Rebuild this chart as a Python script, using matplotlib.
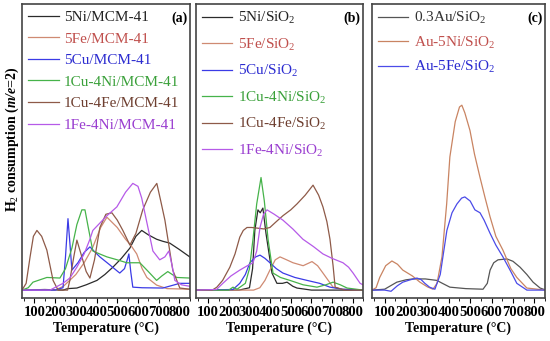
import numpy as np
import matplotlib
matplotlib.use('Agg')
import matplotlib.pyplot as plt
from matplotlib.ticker import MultipleLocator

plt.rcParams['font.family'] = ['Liberation Serif', 'DejaVu Serif']
plt.rcParams['mathtext.fontset'] = 'custom'
plt.rcParams['mathtext.rm'] = 'Liberation Serif'
plt.rcParams['mathtext.it'] = 'Liberation Serif:italic'
plt.rcParams['mathtext.bf'] = 'Liberation Serif:bold'
plt.rcParams['mathtext.bfit'] = 'Liberation Serif:bold:italic'

# ---- pannello (a): MCM-41 ----
a_5ni_t = [40, 150, 238, 260, 305, 350, 402, 440, 479, 520, 561, 590, 618, 650, 690, 720, 753, 800, 850]
a_5ni_v = [2.7, 2.9, 2.7, 3.2, 3.4, 4.5, 6, 8, 10.5, 13.5, 17, 21, 23, 21.5, 20, 19.3, 18.7, 16.5, 14]
a_5fe_t = [40, 200, 240, 300, 340, 380, 420, 450, 500, 540, 565, 594, 620, 643, 690, 740, 850]
a_5fe_v = [2.7, 2.7, 4, 8, 12, 17, 24, 27.5, 24, 20, 18, 15, 10, 7, 4.4, 3.2, 3]
a_5cu_t = [40, 200, 238, 250, 262, 272, 281, 310, 340, 368, 390, 416, 460, 503, 512, 535, 548, 556, 565, 575, 620, 720, 802, 850]
a_5cu_v = [2.7, 2.7, 3.5, 14, 27, 18, 9.5, 12, 15.5, 17.4, 15.8, 14, 11.5, 9, 8.5, 10, 13, 15, 9, 3.7, 3.5, 3.4, 5, 5]
a_1cu4ni_t = [40, 70, 93, 160, 223, 250, 281, 305, 329, 344, 360, 382, 415, 450, 500, 546, 609, 650, 690, 715, 744, 787, 850]
a_1cu4ni_v = [2.7, 3.5, 5.4, 7, 6.8, 10, 17, 25, 30, 30, 24, 16, 15, 14, 13, 12, 12, 9, 6, 7.5, 9, 7, 6.8]
a_1cu4fe_t = [40, 60, 79, 95, 112, 135, 160, 190, 214, 260, 271, 290, 305, 329, 350, 368, 390, 416, 445, 474, 500, 527, 561, 590, 623, 660, 691, 710, 730, 768, 802, 850]
a_1cu4fe_v = [2.7, 5, 14, 21, 23, 21, 16.3, 6, 2.7, 2.7, 6, 14, 19.7, 14, 9, 6.8, 13, 24, 28.5, 29, 26.5, 23, 18, 22, 30, 36, 39, 33, 26.5, 9.5, 3.4, 3]
a_1fe4ni_t = [40, 175, 238, 271, 305, 340, 368, 382, 416, 450, 498, 540, 575, 600, 618, 645, 672, 705, 730, 749, 765, 778, 810, 850]
a_1fe4ni_v = [2.7, 2.7, 5, 6.8, 10.5, 15, 20, 23, 25.5, 28, 31, 36, 39, 38, 34, 25, 16, 13, 14, 16, 11, 6, 4.5, 4]

# ---- pannello (b): SiO2 ----
b_5ni_t = [40, 250, 300, 315, 326, 341, 352, 365, 380, 409, 433, 460, 482, 510, 530, 600, 850]
b_5ni_v = [2.7, 2.7, 3.5, 10, 23, 30, 29, 30.6, 22, 8.5, 5, 5, 5.4, 4, 3.4, 2.7, 2.7]
b_5fe_t = [40, 320, 350, 375, 399, 425, 448, 480, 511, 560, 603, 630, 656, 705, 750, 850]
b_5fe_v = [2.7, 2.7, 3.5, 6, 9.5, 13, 14, 13, 12, 11, 12.4, 11, 8.5, 3.7, 3, 2.7]
b_5cu_t = [40, 220, 253, 280, 302, 330, 351, 375, 399, 430, 462, 520, 579, 640, 690, 750, 850]
b_5cu_v = [2.7, 2.9, 5, 8, 12, 14, 14.6, 13.5, 12, 10, 8.5, 7, 6, 5, 3.7, 3, 2.7]
b_1cu4ni_t = [40, 200, 220, 240, 280, 300, 317, 335, 356, 372, 390, 414, 450, 496, 560, 627, 670, 705, 740, 773, 850]
b_1cu4ni_v = [2.7, 2.7, 3.7, 3, 5, 10, 20, 32, 41, 33, 20, 8.5, 7, 6, 4.5, 3.7, 4.5, 5.4, 4.5, 3.4, 2.7]
b_1cu4fe_t = [40, 120, 142, 170, 205, 230, 253, 270, 288, 310, 336, 370, 399, 430, 462, 500, 530, 570, 608, 635, 656, 675, 690, 705, 715, 760, 850]
b_1cu4fe_v = [2.7, 2.7, 3.7, 6, 10.5, 15, 20.7, 23, 24, 24, 23.8, 23.5, 24, 26, 28, 30, 32, 35, 38.4, 35, 31, 26, 20, 11, 3.7, 2.7, 2.7]
b_1fe4ni_t = [40, 140, 171, 210, 253, 290, 317, 335, 351, 368, 385, 420, 462, 510, 559, 610, 656, 700, 753, 780, 802, 836, 850]
b_1fe4ni_v = [2.7, 2.9, 5, 7.5, 9.5, 11, 12, 16, 24, 28.5, 30, 28.5, 26.5, 23.5, 20, 17.5, 15, 13.5, 12, 10.5, 8.5, 5, 4.5]

# ---- pannello (c): Au ----
c_03au_t = [40, 100, 157, 200, 232, 290, 344, 370, 405, 480, 560, 580, 593, 610, 630, 672, 700, 733, 765, 794, 827, 850]
c_03au_v = [2.7, 3, 5.4, 6.2, 6.5, 6.5, 6, 5, 3.7, 3.2, 3, 5, 9.5, 12, 13, 13.3, 12.5, 10.5, 8, 5.4, 3.4, 2.8]
c_au5ni_t = [40, 60, 77, 105, 134, 160, 185, 230, 265, 300, 326, 345, 368, 390, 405, 430, 450, 461, 475, 499, 520, 546, 570, 593, 620, 653, 690, 718, 765, 850]
c_au5ni_v = [2.7, 3.5, 7, 11, 12.6, 11.5, 9.5, 7.5, 5.4, 3.8, 3, 5, 14, 32, 48, 60, 65, 65.6, 63, 57, 49, 41, 34, 27.6, 21, 16.3, 10, 7, 3.4, 2.7]
c_au5fe_t = [40, 100, 130, 160, 185, 220, 251, 270, 288, 310, 335, 360, 391, 415, 438, 460, 475, 500, 522, 546, 565, 593, 620, 653, 690, 718, 765, 850]
c_au5fe_v = [2.7, 2.7, 2.3, 4.2, 5.4, 6.2, 6.8, 6.3, 5, 3.7, 3, 8, 23, 29, 32, 34, 34.4, 33, 30, 29, 26.5, 22, 18, 14, 9, 5, 2.7, 2.7]

tick_vals = [100, 200, 300, 400, 500, 600, 700, 800]

pannelli = [
    ('(a)', [
        (a_5ni_t, a_5ni_v, '5Ni/MCM-41', '#2b2b2b', '#222222'),
        (a_5fe_t, a_5fe_v, '5Fe/MCM-41', '#cf8a72', '#c0504d'),
        (a_5cu_t, a_5cu_v, '5Cu/MCM-41', '#3b3be6', '#2b2bd0'),
        (a_1cu4ni_t, a_1cu4ni_v, '1Cu-4Ni/MCM-41', '#46b34a', '#3aa03a'),
        (a_1cu4fe_t, a_1cu4fe_v, '1Cu-4Fe/MCM-41', '#8e5a48', '#6e3f30'),
        (a_1fe4ni_t, a_1fe4ni_v, '1Fe-4Ni/MCM-41', '#b65ae8', '#9a3ed0'),
    ]),
    ('(b)', [
        (b_5ni_t, b_5ni_v, '5Ni/SiO$_2$', '#2b2b2b', '#222222'),
        (b_5fe_t, b_5fe_v, '5Fe/SiO$_2$', '#cf8a72', '#c0504d'),
        (b_5cu_t, b_5cu_v, '5Cu/SiO$_2$', '#3b3be6', '#2b2bd0'),
        (b_1cu4ni_t, b_1cu4ni_v, '1Cu-4Ni/SiO$_2$', '#46b34a', '#3aa03a'),
        (b_1cu4fe_t, b_1cu4fe_v, '1Cu-4Fe/SiO$_2$', '#8e5a48', '#6e3f30'),
        (b_1fe4ni_t, b_1fe4ni_v, '1Fe-4Ni/SiO$_2$', '#b65ae8', '#9a3ed0'),
    ]),
    ('(c)', [
        (c_03au_t, c_03au_v, '0.3Au/SiO$_2$', '#555555', '#333333'),
        (c_au5ni_t, c_au5ni_v, 'Au-5Ni/SiO$_2$', '#c98462', '#c0504d'),
        (c_au5fe_t, c_au5fe_v, 'Au-5Fe/SiO$_2$', '#4b4be8', '#2b2bd0'),
    ]),
]

fig = plt.figure(figsize=(5.5, 3.41), dpi=100)
sinistre = [0.040, 0.356, 0.676]
larghezze = [0.305, 0.304, 0.315]
spaziature = [0.52, 0.68, 0.55]

for k, (lettera, curve) in enumerate(pannelli):
    ax = fig.add_axes([sinistre[k], 0.126, larghezze[k], 0.862])
    for t, v, nome, col, _ in curve:
        ax.plot(t, v, color=col, lw=0.9, label=nome)
    ax.set_xlim(40, 850)
    ax.set_ylim(0, 100)
    ax.set_yticks([])
    ax.set_xticks(tick_vals)
    ax.set_xticklabels([str(x) for x in tick_vals], fontweight='bold', fontsize=10.5)
    ax.xaxis.set_minor_locator(MultipleLocator(50))
    ax.tick_params(axis='x', which='major', direction='out', length=3.5, width=0.8, pad=2.5)
    ax.tick_params(axis='x', which='minor', direction='out', length=2, width=0.6)
    for s in ax.spines.values():
        s.set_linewidth(1.2)
        s.set_color('#444444')
    ax.set_xlabel('Temperature (°C)', fontweight='bold', fontsize=10, labelpad=1.5)
    ax.text(0.985, 0.975, lettera, transform=ax.transAxes, ha='right', va='top',
            fontweight='bold', fontsize=10)
    leg = ax.legend(loc='upper left', bbox_to_anchor=(0.0, 1.0), frameon=False,
                    fontsize=11, handlelength=2.0, handletextpad=0.35,
                    labelspacing=spaziature[k], borderaxespad=0.25,
                    borderpad=0.15)
    for testo, (_, _, _, _, tcol) in zip(leg.get_texts(), curve):
        testo.set_color(tcol)

fig.text(0.022, 1 - 139 / 341, 'H$_2$ consumption ($\\mathbfit{m/e}$=2)', rotation=90,
         ha='center', va='center', fontweight='bold', fontsize=10)

fig.savefig('out.png', dpi=100)
